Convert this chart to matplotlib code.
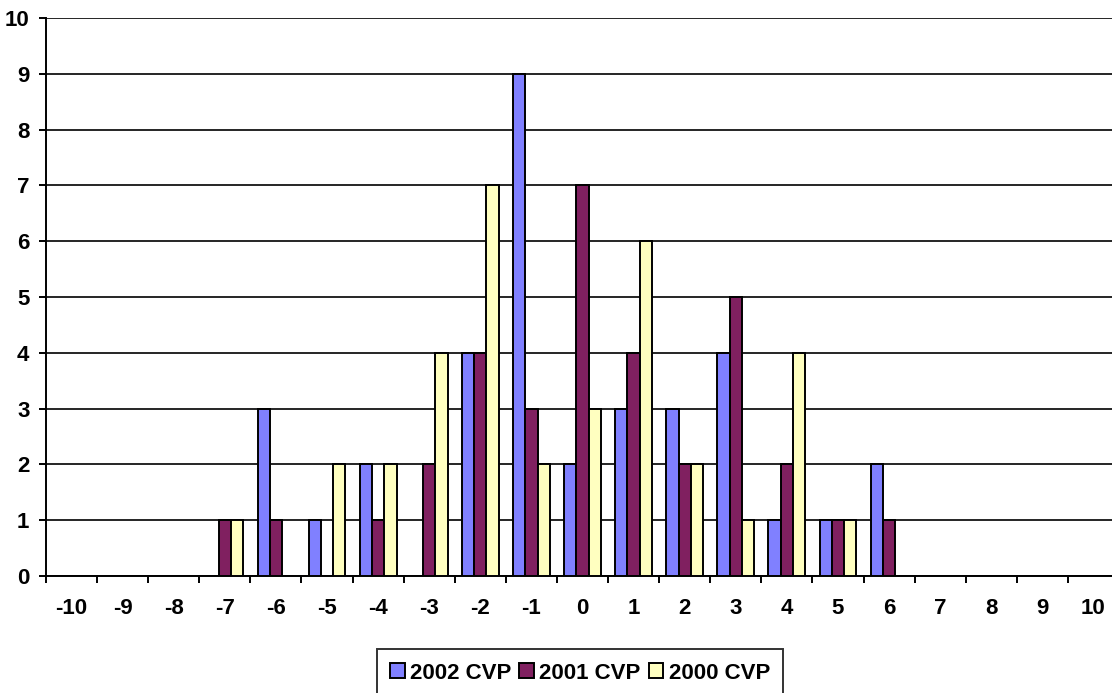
import numpy as np
import matplotlib
matplotlib.use("Agg")
import matplotlib.pyplot as plt

# categories on the x axis
categories = list(range(-10, 11))

# counts per category
cvp_2002 = [0, 0, 0, 0, 3, 1, 2, 0, 4, 9, 2, 3, 3, 4, 1, 1, 2, 0, 0, 0, 0]
cvp_2001 = [0, 0, 0, 1, 1, 0, 1, 2, 4, 3, 7, 4, 2, 5, 2, 1, 1, 0, 0, 0, 0]
cvp_2000 = [0, 0, 0, 1, 0, 2, 2, 4, 7, 2, 3, 6, 2, 1, 4, 1, 0, 0, 0, 0, 0]

series_names = ["2002 CVP", "2001 CVP", "2000 CVP"]
colors = ["#8080FF", "#802060", "#FFFFC0"]

plt.rcParams['font.family'] = ['Liberation Sans', 'DejaVu Sans']
plt.rcParams['font.weight'] = 'bold'

fig = plt.figure(figsize=(11.12, 6.93), dpi=100)
W, H = 1112, 693
ax = fig.add_axes([46 / W, (H - 576) / H, (1119 - 46) / W, (576 - 18) / H])

x = np.arange(len(categories))
bw = 0.24
for i, (vals, name, c) in enumerate(zip([cvp_2002, cvp_2001, cvp_2000], series_names, colors)):
    ax.bar(x + (i - 1) * bw, vals, width=bw, color=c, edgecolor="black",
           linewidth=1.4, label=name, zorder=3)

ax.set_xlim(-0.5, len(categories) - 0.5)
ax.set_ylim(0, 10)
ax.set_yticks(range(0, 11))
ax.yaxis.grid(True, color="black", linewidth=1.2, zorder=0)
ax.set_axisbelow(True)

# labels centred in categories, ticks at boundaries
ax.set_xticks(x)
ax.set_xticklabels([str(c) for c in categories], fontsize=16, fontweight='bold')
ax.set_xticks(np.arange(-0.5, len(categories)), minor=True)
ax.tick_params(axis='x', which='major', length=0, pad=16)
ax.tick_params(axis='x', which='minor', length=5, width=1.4, direction='out')
ax.tick_params(axis='y', length=5, width=1.4, pad=7, labelsize=16)
plt.setp(ax.get_yticklabels(), fontweight='bold')

for s in ['top', 'right']:
    ax.spines[s].set_visible(False)
for s in ['left', 'bottom']:
    ax.spines[s].set_linewidth(1.4)

# legend box runs off the bottom edge, as in the original
leg = fig.legend(loc='lower left', bbox_to_anchor=(377 / W, -4 / H), ncol=3,
                 fontsize=16, frameon=True, fancybox=False, edgecolor='black',
                 handlelength=0.65, handleheight=0.65, handletextpad=0.25,
                 columnspacing=0.35, borderpad=0.6, borderaxespad=0)
leg.get_frame().set_linewidth(1.4)
plt.setp(leg.get_texts(), fontweight='bold')

fig.savefig("out.png", dpi=100)
